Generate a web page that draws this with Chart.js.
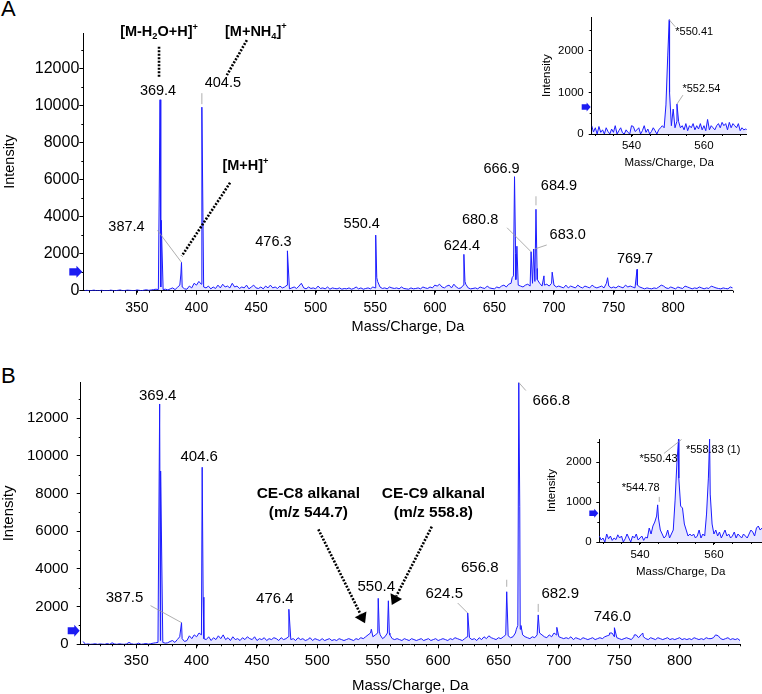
<!DOCTYPE html>
<html>
<head>
<meta charset="utf-8">
<script src="https://cdn.jsdelivr.net/npm/chart.js@4.4.1/dist/chart.umd.min.js"></script>
<style>
body{margin:0;background:#fff;overflow:hidden;width:762px;height:694px;position:relative;font-family:"Liberation Sans",Arial,sans-serif}
canvas{position:absolute}
.tag{position:absolute;font-size:22px;line-height:1;color:#000}
</style>
</head>
<body>
<div class="tag" style="left:1px;top:-2px">A</div>
<div class="tag" style="left:1px;top:365px">B</div>
<canvas id="mainA" width="762" height="340" style="left:0;top:0"></canvas>
<canvas id="insetA" width="232" height="175" style="left:530px;top:0"></canvas>
<canvas id="mainB" width="762" height="354" style="left:0;top:340px"></canvas>
<canvas id="insetB" width="222" height="160" style="left:540px;top:420px"></canvas>
<script>
const FAM = '"Liberation Sans", Arial, sans-serif';

// axis ticks
const xTicksMain = [350, 400, 450, 500, 550, 600, 650, 700, 750, 800];
const yTicksMain = [0, 2000, 4000, 6000, 8000, 10000, 12000];
const xTicksInset = [540, 560];
const yTicksInset = [0, 1000, 2000];

// panel A : baseline (every 2 Da from 306)
const noiseStartA = 306, noiseStepA = 2;
const noiseA = [
  0,20,0,10,30,0,0,20,10,0,
  0,30,10,0,20,40,0,10,30,20,
  10,0,40,20,0,30,50,20,40,60,
  80,60,200,60,80,40,100,150,60,180,
  300,200,100,80,250,150,400,300,500,350,
  200,150,250,100,200,120,300,150,350,200,
  250,150,400,200,250,120,200,150,300,100,
  200,300,150,120,200,100,250,150,300,150,
  200,120,250,150,200,300,100,150,200,120,
  250,400,150,100,200,120,150,100,250,120,
  150,100,200,80,150,120,100,150,80,120,
  100,150,80,120,200,100,150,80,120,150,
  100,200,150,500,200,120,150,100,200,150,
  120,150,100,200,120,100,80,150,100,120,
  150,100,200,150,120,200,150,300,250,350,
  200,150,250,300,150,350,200,120,150,300,
  350,150,100,120,150,100,200,150,120,250,
  150,120,100,200,150,250,300,200,350,400,
  800,600,300,250,200,300,350,250,400,500,
  600,400,250,300,350,250,400,300,200,250,
  200,150,300,150,250,200,150,300,200,150,
  250,200,150,300,200,150,200,250,150,400,
  250,150,200,150,250,200,150,300,200,250,
  200,150,300,200,150,100,150,120,100,150,
  120,200,300,250,150,120,200,150,100,200,
  150,120,250,200,150,100,150,120,200,150,
  100,150,120,250,200,150,120,100,150,120,
  100,200,150
];
const peakMzA  = [369.4, 370.4, 386.9, 387.4, 404.5, 405.4, 476.3, 550.4, 551.3, 624.4, 625.3, 664.9, 666.9, 667.8, 668.9, 680.8, 683.0, 684.9, 685.8, 691.6, 698.5, 745.0, 769.7];
const peakIntA = [10300, 3800, 900, 1530, 9900, 4200, 2150, 3000, 700, 1960, 500, 700, 6150, 2000, 2400, 2100, 2250, 4390, 1200, 800, 1000, 700, 1150];
const thresholdA = 1020;

// panel A inset (every 0.5 Da from 529)
const noiseStartIA = 529, noiseStepIA = 0.5;
const noiseIA = [
  200,50,150,0,180,40,100,0,150,60,
  0,120,40,200,0,80,150,30,0,100,
  40,0,200,180,60,100,150,0,80,200,
  40,120,0,60,150,80,0,100,150,200,
  150,700,1900,1000,200,600,150,300,300,150,
  200,100,250,80,200,150,250,100,200,120,
  250,100,200,80,350,100,200,150,100,200,
  250,150,280,200,250,100,280,150,250,200,
  150,250,80,150,100,120,100
];
const peakMzIA  = [550.41, 552.54];
const peakIntIA = [2750, 720];
const thresholdIA = 650;

// panel B
const noiseStartB = 306, noiseStepB = 2;
const noiseB = [
  150,0,20,0,10,30,0,20,10,0,
  40,0,80,20,0,30,10,0,20,100,
  30,0,10,60,0,20,40,10,30,60,
  80,100,200,100,60,80,150,200,100,250,
  400,300,150,200,450,300,500,400,600,500,
  300,250,400,200,350,250,450,300,500,250,
  350,200,400,250,300,200,350,250,400,300,
  250,400,200,300,250,350,200,300,250,350,
  300,200,350,250,300,400,250,300,200,350,
  250,300,200,250,350,200,300,250,200,300,
  200,250,300,200,250,200,300,250,200,250,
  300,250,200,300,250,350,300,400,500,600,
  400,500,600,500,300,400,600,500,300,250,
  300,250,200,300,250,200,300,250,200,250,
  300,200,250,300,200,250,300,200,250,300,
  250,200,300,250,350,300,250,200,300,400,
  350,250,300,200,350,250,400,300,450,350,
  300,250,350,300,400,500,450,350,400,600,
  1000,800,500,400,350,300,400,350,500,600,
  500,400,350,500,400,600,500,400,350,300,
  350,300,400,250,350,300,250,350,300,250,
  300,350,250,300,350,300,400,450,500,600,
  400,350,300,250,300,350,300,250,400,500,
  350,500,400,300,250,350,300,250,350,300,
  250,300,350,250,300,250,300,350,250,300,
  250,300,250,350,300,250,300,250,350,300,
  300,350,500,450,300,250,300,350,250,300,
  250,300,200
];
const peakMzB  = [369.4, 370.2, 387.5, 404.6, 405.4, 476.4, 544.7, 550.4, 551.3, 558.8, 559.6, 624.5, 656.8, 664.8, 666.8, 667.6, 668.6, 682.9, 698.3, 742.0, 746.0, 762.5, 769.5, 829.8];
const peakIntB = [12760, 9200, 1150, 9400, 2500, 1860, 800, 2440, 700, 2310, 600, 1660, 2790, 800, 13900, 7300, 1000, 1560, 900, 600, 880, 500, 600, 500];
const thresholdB = 720;

// panel B inset
const noiseStartIB = 529, noiseStepIB = 0.5;
const noiseIB = [
  150,50,100,0,200,80,150,40,100,60,
  180,100,150,0,80,200,100,0,150,100,
  200,50,100,150,40,120,100,350,200,400,
  500,650,600,300,200,100,150,300,100,200,
  300,1050,2000,1600,900,850,450,300,150,200,
  150,200,100,150,300,100,200,150,700,1600,
  1200,450,200,300,150,250,100,200,300,150,
  200,100,150,250,100,200,150,100,200,150,
  100,200,300,250,150,350,400,300,350
];
const peakMzIB  = [544.78, 550.43, 558.83];
const peakIntIB = [930, 2575, 2575];
const thresholdIB = 720;

function profile(start, step, noise, mz, ints) {
  const pts = noise.map((v, i) => ({x: +(start + i * step).toFixed(2), y: v}));
  mz.forEach((m, i) => pts.push({x: m, y: ints[i]}));
  return pts.sort((a, b) => a.x - b.x);
}

function everyStep(a, b, s) {
  const out = [];
  for (let v = a; v <= b + 1e-9; v += s) out.push(v);
  return out;
}

function richText(ctx, parts, cx, cy, size) {
  const big = 'bold ' + size + 'px ' + FAM, small = 'bold ' + (size * 0.64) + 'px ' + FAM;
  let w = 0;
  parts.forEach(p => { ctx.font = p[1] ? small : big; w += ctx.measureText(p[0]).width; });
  let x = cx - w / 2;
  ctx.textAlign = 'left';
  parts.forEach(p => {
    ctx.font = p[1] ? small : big;
    const off = p[1] === 'sub' ? size * 0.3 : p[1] === 'sup' ? -size * 0.33 : 0;
    ctx.fillText(p[0], x, cy + off);
    x += ctx.measureText(p[0]).width;
  });
}

const decor = {
  id: 'decor',
  afterDraw(chart, args, o) {
    const ctx = chart.ctx, xs = chart.scales.x, ys = chart.scales.y;
    const px = v => xs.getPixelForValue(v), py = v => ys.getPixelForValue(v);
    const seg = (x1, y1, x2, y2) => { ctx.beginPath(); ctx.moveTo(x1, y1); ctx.lineTo(x2, y2); ctx.stroke(); };
    ctx.save();
    // minor ticks
    ctx.strokeStyle = '#000'; ctx.lineWidth = 1;
    o.minorX.forEach(v => { const x = Math.round(px(v)) + 0.5; seg(x, ys.bottom, x, ys.bottom + o.minorLen); });
    o.minorY.forEach(v => { const y = Math.round(py(v)) + 0.5; seg(xs.left, y, xs.left - o.minorLen, y); });

    // blue marker on the y axis
    const ay = py(o.threshold), tip = xs.left - 1, L = o.arrow[0], H = o.arrow[1], n = L * 0.45;
    ctx.fillStyle = '#1c1cf2';
    ctx.beginPath();
    ctx.moveTo(tip - L, ay - H * 0.3); ctx.lineTo(tip - n, ay - H * 0.3); ctx.lineTo(tip - n, ay - H / 2);
    ctx.lineTo(tip, ay); ctx.lineTo(tip - n, ay + H / 2); ctx.lineTo(tip - n, ay + H * 0.3);
    ctx.lineTo(tip - L, ay + H * 0.3); ctx.closePath(); ctx.fill();

    // peak labels
    ctx.textBaseline = 'middle';
    o.labels.forEach(l => {
      const k = o.mz.indexOf(l.mz), x0 = px(l.mz), y0 = py(o.int[k]);
      if (l.lead) {
        ctx.strokeStyle = '#9a9a9a'; ctx.lineWidth = 0.8;
        seg(x0 + l.lead[0], y0 + l.lead[1], x0 + l.lead[2], y0 + l.lead[3]);
      }
      ctx.fillStyle = '#000';
      ctx.font = o.labelFont + 'px ' + FAM;
      ctx.textAlign = l.align || 'center';
      ctx.fillText((o.prefix || '') + l.mz.toFixed(o.digits) + (l.suffix || ''), x0 + l.dx, y0 + l.dy);
    });

    // bold notes with dotted pointers
    (o.notes || []).forEach(nt => {
      const k = o.mz.indexOf(nt.mz), x0 = px(nt.mz), y0 = py(o.int[k]);
      ctx.fillStyle = '#000';
      if (nt.rich) richText(ctx, nt.rich, x0 + nt.dx, y0 + nt.dy, o.noteFont);
      if (nt.lines) {
        ctx.font = 'bold ' + o.noteFont + 'px ' + FAM; ctx.textAlign = 'center';
        nt.lines.forEach((t, i) => ctx.fillText(t, x0 + nt.dx, y0 + nt.dy + i * o.noteGap));
      }
      const sx = x0 + nt.dot[0], sy = y0 + nt.dot[1];
      let ex = x0 + nt.dot[2], ey = y0 + nt.dot[3];
      const len = Math.hypot(ex - sx, ey - sy), ux = (ex - sx) / len, uy = (ey - sy) / len;
      const tx = ex, tyy = ey;
      if (nt.head) { ex -= ux * 10; ey -= uy * 10; }
      ctx.strokeStyle = '#000'; ctx.lineWidth = 2.6; ctx.setLineDash([2, 1.5]);
      seg(sx, sy, ex, ey);
      ctx.setLineDash([]);
      if (nt.head) {
        ctx.beginPath();
        ctx.moveTo(tx, tyy);
        ctx.lineTo(ex - uy * 6.5, ey + ux * 6.5);
        ctx.lineTo(ex + uy * 6.5, ey - ux * 6.5);
        ctx.closePath(); ctx.fill();
      }
    });
    ctx.restore();
  }
};

function makeChart(id, s) {
  const tickFont = size => ({family: FAM, size: size, lineHeight: 1});
  return new Chart(document.getElementById(id), {
    type: 'line',
    data: {
      datasets: [{
        data: s.points,
        borderColor: 'rgb(28,28,255)',
        borderWidth: 1,
        backgroundColor: 'rgba(120,120,255,0.18)',
        fill: 'origin',
        pointRadius: 0,
        tension: 0
      }]
    },
    options: {
      responsive: false,
      animation: false,
      events: [],
      layout: {padding: {top: s.top, right: s.right, left: 0, bottom: 0}},
      plugins: {legend: {display: false}, tooltip: {enabled: false}, decor: s.decor},
      scales: {
        x: {
          type: 'linear', min: s.xMin, max: s.xMax,
          afterBuildTicks: sc => { sc.ticks = s.xTicks.map(v => ({value: v})); },
          afterFit: sc => { sc.height = s.xHeight; },
          ticks: {font: tickFont(s.xFont), color: '#000', padding: s.xPad, maxRotation: 0, autoSkip: false, callback: v => v},
          grid: {drawOnChartArea: false, tickLength: s.tick, color: '#000'},
          border: {color: '#000', width: 1},
          title: {display: true, text: 'Mass/Charge, Da', color: '#000', font: tickFont(s.titleFont), padding: {top: 0, bottom: s.xTitlePad}}
        },
        y: {
          min: 0, max: s.yMax,
          afterBuildTicks: sc => { sc.ticks = s.yTicks.map(v => ({value: v})); },
          afterFit: sc => { sc.width = s.yWidth; },
          ticks: {font: tickFont(s.yFont), color: '#000', padding: s.yPad, autoSkip: false, callback: v => v},
          grid: {drawOnChartArea: false, tickLength: s.tick, color: '#000'},
          border: {color: '#000', width: 1},
          title: {display: true, text: 'Intensity', color: '#000', font: tickFont(s.titleFont), padding: {top: s.yTitlePad, bottom: 0}}
        }
      }
    },
    plugins: [decor]
  });
}

// 패널 A
makeChart('mainA', {
  points: profile(noiseStartA, noiseStepA, noiseA, peakMzA, peakIntA),
  xMin: 305, xMax: 850, yMax: 13900, xTicks: xTicksMain, yTicks: yTicksMain,
  top: 33, right: 29.3, yWidth: 83.3, xHeight: 49.3,
  xFont: 14, yFont: 16, titleFont: 14.5, tick: 4, xPad: 6, yPad: 0, xTitlePad: 5.5, yTitlePad: 3,
  decor: {
    mz: peakMzA, int: peakIntA, digits: 1, labelFont: 14.5,
    minorX: everyStep(310, 850, 10), minorY: everyStep(1000, 13000, 2000), minorLen: 2,
    threshold: thresholdA, arrow: [13, 12],
    labels: [
      {mz: 369.4, dx: -2, dy: -9},
      {mz: 404.5, dx: 21, dy: -24, lead: [0, -14, 0, -3]},
      {mz: 387.4, dx: -55, dy: -35, lead: [-24, -32, 0, 0]},
      {mz: 476.3, dx: -14, dy: -9},
      {mz: 550.4, dx: -14, dy: -11},
      {mz: 624.4, dx: -2, dy: -8},
      {mz: 666.9, dx: -13, dy: -8},
      {mz: 684.9, dx: 23, dy: -23, lead: [0, -13, 0, -4]},
      {mz: 680.8, dx: -51, dy: -32, lead: [-24, -24, 0, 0]},
      {mz: 683.0, dx: 34, dy: -14, lead: [13, -4, 1, 0]},
      {mz: 769.7, dx: -2, dy: -10}
    ],
    noteFont: 14.5,
    notes: [
      {mz: 369.4, dx: -1, dy: -68, rich: [['[M-H'], ['2', 'sub'], ['O+H]'], ['+', 'sup']], dot: [-1, -53, -1, -22]},
      {mz: 404.5, dx: 54, dy: -75.5, rich: [['[M+NH'], ['4', 'sub'], [']'], ['+', 'sup']], dot: [45, -67, 25, -32]},
      {mz: 387.4, dx: 64, dy: -96.6, rich: [['[M+H]'], ['+', 'sup']], dot: [48.6, -79.6, 0.3, -6.3]}
    ]
  }
});

makeChart('insetA', {
  points: profile(noiseStartIA, noiseStepIA, noiseIA, peakMzIA, peakIntIA),
  xMin: 529, xMax: 571.8, yMax: 2810, xTicks: xTicksInset, yTicks: yTicksInset,
  top: 17.3, right: 15.3, yWidth: 61.7, xHeight: 41,
  xFont: 11.5, yFont: 11.5, titleFont: 11.5, tick: 3, xPad: 3.5, yPad: 5, xTitlePad: 6, yTitlePad: 11,
  decor: {
    mz: peakMzIA, int: peakIntIA, digits: 2, prefix: '*', labelFont: 11,
    minorX: everyStep(530, 570, 5), minorY: everyStep(500, 2500, 1000), minorLen: 2,
    threshold: thresholdIA, arrow: [9, 9],
    labels: [
      {mz: 550.41, dx: 6, dy: 12, align: 'left', lead: [0, 0, 6, 7]},
      {mz: 552.54, dx: 5.5, dy: -15, align: 'left', lead: [0, 0, 6, -9]}
    ]
  }
});

// 패널 B
makeChart('mainB', {
  points: profile(noiseStartB, noiseStepB, noiseB, peakMzB, peakIntB),
  xMin: 304, xMax: 850, yMax: 13900, xTicks: xTicksMain, yTicks: yTicksMain,
  top: 42.5, right: 22, yWidth: 80.7, xHeight: 49.7,
  xFont: 15, yFont: 15, titleFont: 15, tick: 4, xPad: 5.5, yPad: 8, xTitlePad: 0.5, yTitlePad: 1,
  decor: {
    mz: peakMzB, int: peakIntB, digits: 1, labelFont: 15,
    minorX: everyStep(310, 850, 10), minorY: everyStep(1000, 13000, 2000), minorLen: 2,
    threshold: thresholdB, arrow: [12, 12],
    labels: [
      {mz: 369.4, dx: -2, dy: -8},
      {mz: 404.6, dx: -3, dy: -10},
      {mz: 387.5, dx: -57, dy: -25, lead: [-31, -17, 0, 0]},
      {mz: 476.4, dx: -14, dy: -10},
      {mz: 550.4, dx: -2, dy: -11},
      {mz: 624.5, dx: -23.5, dy: -19, lead: [-10, -10, 0, 0]},
      {mz: 656.8, dx: -27, dy: -23.4, lead: [0, -12, 0, -5]},
      {mz: 666.8, dx: 32.5, dy: 18.7, lead: [0, 0, 7, 8]},
      {mz: 682.9, dx: 22, dy: -20.7, lead: [0, -11, 0, -3]},
      {mz: 746.0, dx: -2, dy: -10.4}
    ],
    noteFont: 15.5, noteGap: 18.7,
    notes: [
      {mz: 544.7, dx: -63, dy: -135.2, lines: ['CE-C8 alkanal', '(m/z 544.7)'], dot: [-53, -99.9, -6.3, -5.9], head: true},
      {mz: 558.8, dx: 45, dy: -106.8, lines: ['CE-C9 alkanal', '(m/z 558.8)'], dot: [43.4, -74.1, 3.4, 4.2], head: true}
    ]
  }
});

makeChart('insetB', {
  points: profile(noiseStartIB, noiseStepIB, noiseIB, peakMzIB, peakIntIB),
  xMin: 529, xMax: 573, yMax: 2580, xTicks: xTicksInset, yTicks: yTicksInset,
  top: 19, right: 0, yWidth: 59.3, xHeight: 38,
  xFont: 11.5, yFont: 11.5, titleFont: 11.5, tick: 3, xPad: 4.5, yPad: 4.6, xTitlePad: 2.5, yTitlePad: 6,
  decor: {
    mz: peakMzIB, int: peakIntIB, digits: 2, prefix: '*', labelFont: 11,
    minorX: everyStep(530, 570, 5), minorY: everyStep(500, 2500, 1000), minorLen: 2,
    threshold: thresholdIB, arrow: [9, 9],
    labels: [
      {mz: 550.43, dx: -20, dy: 19.3, lead: [-14.6, 14.3, 3, 0.3]},
      {mz: 558.83, dx: -23.7, dy: 11, align: 'left', suffix: ' (1)'},
      {mz: 544.78, dx: -17, dy: -16.7, lead: [1.6, -8, 1.6, -3]}
    ]
  }
});
</script>
</body>
</html>
